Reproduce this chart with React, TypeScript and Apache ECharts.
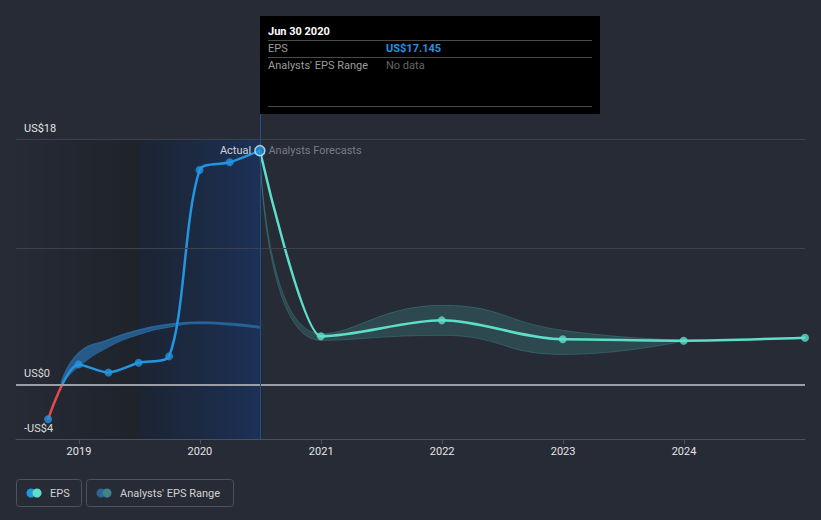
import React, { useEffect, useRef, useState } from 'react';
import * as echarts from 'echarts';

// ---- data ----
const actualDates = ['2018-09-30', '2018-12-31', '2019-03-31', '2019-06-30', '2019-09-30', '2019-12-31', '2020-03-31', '2020-06-30'];
const actualEps = [-2.55, 1.47, 0.88, 1.59, 2.06, 15.72, 16.29, 17.145];

const forecastDates = ['2020-06-30', '2020-12-31', '2021-12-31', '2022-12-31', '2023-12-31', '2024-12-31'];
const forecastEps = [17.145, 3.53, 4.7, 3.31, 3.21, 3.43];

const pastRangeDates = ['2018-11-08', '2018-12-31', '2019-03-31', '2019-06-30', '2019-09-30', '2019-12-31', '2020-03-31', '2020-06-30'];
const pastRangeLow = [0.0, 1.3, 2.74, 3.65, 4.2, 4.45, 4.35, 4.12];
const pastRangeHigh = [0.1, 2.3, 3.28, 4.0, 4.42, 4.58, 4.48, 4.24];

const forecastRangeDates = ['2020-06-30', '2020-12-31', '2021-12-31', '2022-12-31', '2023-12-31'];
const forecastRangeLow = [17.145, 3.23, 3.6, 2.2, 3.18];
const forecastRangeHigh = [17.145, 3.72, 5.8, 3.97, 3.26];

const yLabelValues = [-4, 0, 18];
const gridValues = [18, 10];
const zeroValue = 0;

const xMin = '2018-06-25';
const xMax = '2024-12-31';
const yMin = -4;
const yMax = 19.833;
const yInterval = 2;

const pastShadeMid = '2019-06-30';

// ---- colours ----
const BG = '#262b36';
const BLUE = '#2394e0';
const TEAL = '#5edec8';
const RED = '#e5484d';
const PAST_BAND = 'rgba(43,108,165,0.75)';
const FC_BAND = 'rgba(70,160,160,0.25)';
const FONT = 'Roboto, "Noto Sans", sans-serif';

const YEAR_MS = 365 * 24 * 3600 * 1000;

const lastActualDate = actualDates[actualDates.length - 1];
const lastActualValue = actualEps[actualEps.length - 1];

function fmtMoney(v: number) {
  return v < 0 ? `-US$${Math.abs(v)}` : `US$${v}`;
}

function pairs(dates: string[], vals: number[]) {
  return dates.map((d, i) => [d, vals[i]]);
}

function buildOption(): any {
  const pastDiff = pastRangeHigh.map((h, i) => h - pastRangeLow[i]);
  const fcDiff = forecastRangeHigh.map((h, i) => h - forecastRangeLow[i]);

  // gradient on actual line: red below zero, blue above (relative to line's bounding box)
  const aMax = Math.max(...actualEps);
  const aMin = Math.min(...actualEps);
  const zeroOff = (aMax - zeroValue) / (aMax - aMin);

  const actualScatter = actualDates.map((d, i) => {
    const item: any = { value: [d, actualEps[i]] };
    if (i === actualDates.length - 1) {
      item.symbolSize = 10;
      item.itemStyle = { color: BLUE, borderColor: '#cfe6fb', borderWidth: 1.5 };
      item.label = {
        show: true,
        position: 'left',
        distance: 3,
        formatter: 'Actual',
        color: '#ffffff',
        fontSize: 11,
        fontFamily: FONT,
      };
    }
    return item;
  });

  const forecastScatter = forecastDates.map((d, i) => {
    const item: any = { value: [d, forecastEps[i]] };
    if (i === 0) {
      item.symbolSize = 1;
      item.itemStyle = { color: 'rgba(0,0,0,0)' };
      item.label = {
        show: true,
        position: 'right',
        distance: 8,
        formatter: 'Analysts Forecasts',
        color: '#8f949c',
        fontSize: 11,
        fontFamily: FONT,
      };
    }
    return item;
  });

  const tipX = 260;
  const tipY = 16;
  const tipW = 340;
  const tipH = 98;

  return {
    animation: false,
    backgroundColor: BG,
    textStyle: { fontFamily: FONT },
    grid: { left: 16, right: 16, top: 114, bottom: 81, containLabel: false },
    xAxis: {
      type: 'time',
      min: xMin,
      max: xMax,
      minInterval: YEAR_MS,
      maxInterval: YEAR_MS * 1.01,
      axisLine: { show: true, onZero: false, lineStyle: { color: '#4b515c', width: 1 } },
      axisTick: { show: true, length: 5, lineStyle: { color: '#4b515c' } },
      axisLabel: {
        color: '#e4e4e4',
        fontSize: 11,
        margin: 7,
        fontFamily: FONT,
        showMinLabel: false,
        showMaxLabel: false,
        formatter: (v: number) => String(new Date(v).getFullYear()),
      },
      splitLine: { show: false },
    },
    yAxis: {
      type: 'value',
      min: yMin,
      max: yMax,
      interval: yInterval,
      axisLine: { show: false },
      axisTick: { show: false },
      splitLine: { show: false },
      axisLabel: {
        inside: true,
        margin: 8,
        color: '#e4e4e4',
        fontSize: 11,
        fontFamily: FONT,
        verticalAlign: 'bottom',
        padding: [0, 0, 5, 0],
        formatter: (v: number) => (yLabelValues.some((t) => Math.abs(t - v) < 1e-6) ? fmtMoney(v) : ''),
      },
    },
    series: [
      {
        name: 'bg',
        type: 'line',
        data: pairs([lastActualDate], [lastActualValue]),
        symbol: 'none',
        silent: true,
        lineStyle: { opacity: 0 },
        z: 0,
        markArea: {
          silent: true,
          data: [
            [
              {
                xAxis: xMin,
                yAxis: gridValues[0],
                itemStyle: {
                  color: {
                    type: 'linear', x: 0, y: 0, x2: 1, y2: 0,
                    colorStops: [
                      { offset: 0, color: 'rgba(0,0,0,0.02)' },
                      { offset: 1, color: 'rgba(0,0,0,0.2)' },
                    ],
                  },
                },
              },
              { xAxis: pastShadeMid, yAxis: yMin },
            ],
            [
              {
                xAxis: pastShadeMid,
                yAxis: gridValues[0],
                itemStyle: {
                  color: {
                    type: 'linear', x: 0, y: 0, x2: 1, y2: 0,
                    colorStops: [
                      { offset: 0, color: 'rgba(5,20,45,0.3)' },
                      { offset: 1, color: 'rgba(10,60,140,0.38)' },
                    ],
                  },
                },
              },
              { xAxis: lastActualDate, yAxis: yMin },
            ],
          ],
        },
        markLine: {
          silent: true,
          symbol: ['none', 'none'],
          label: { show: false },
          data: [
            ...gridValues.map((v) => ({ yAxis: v, lineStyle: { color: '#3d434e', width: 1, type: 'solid' } })),
            { yAxis: zeroValue, lineStyle: { color: '#9b9ea4', width: 2, type: 'solid' } },
            { xAxis: lastActualDate, lineStyle: { color: '#1f4f8f', width: 1, type: 'solid' } },
          ],
        },
      },
      {
        name: 'pastLow',
        type: 'line',
        stack: 'past',
        smooth: 0.5,
        symbol: 'none',
        z: 2,
        lineStyle: { color: PAST_BAND, width: 1 },
        data: pairs(pastRangeDates, pastRangeLow),
      },
      {
        name: "Analysts' EPS Range",
        type: 'line',
        stack: 'past',
        smooth: 0.5,
        symbol: 'none',
        z: 2,
        lineStyle: { color: PAST_BAND, width: 1.5 },
        areaStyle: { color: PAST_BAND, opacity: 1 },
        data: pairs(pastRangeDates, pastDiff),
      },
      {
        name: 'fcLow',
        type: 'line',
        stack: 'fc',
        smooth: 0.5,
        symbol: 'none',
        z: 2,
        lineStyle: { color: 'rgba(70,160,160,0.35)', width: 1 },
        data: pairs(forecastRangeDates, forecastRangeLow),
      },
      {
        name: 'fcRange',
        type: 'line',
        stack: 'fc',
        smooth: 0.5,
        symbol: 'none',
        z: 2,
        lineStyle: { color: 'rgba(70,160,160,0.35)', width: 1 },
        areaStyle: { color: FC_BAND, opacity: 1 },
        data: pairs(forecastRangeDates, fcDiff),
      },
      {
        name: 'EPS',
        type: 'line',
        smooth: 0.3,
        symbol: 'none',
        z: 3,
        lineStyle: {
          width: 2.5,
          color: {
            type: 'linear', x: 0, y: 0, x2: 0, y2: 1,
            colorStops: [
              { offset: 0, color: BLUE },
              { offset: zeroOff, color: BLUE },
              { offset: zeroOff, color: RED },
              { offset: 1, color: RED },
            ],
          },
        },
        data: pairs(actualDates, actualEps),
      },
      {
        name: 'EPS forecast',
        type: 'line',
        smooth: 0.3,
        smoothMonotone: 'x',
        symbol: 'none',
        z: 3,
        lineStyle: { color: TEAL, width: 2.5 },
        data: pairs(forecastDates, forecastEps),
      },
      {
        name: 'EPS forecast points',
        type: 'scatter',
        symbol: 'circle',
        symbolSize: 8,
        z: 4,
        itemStyle: { color: TEAL },
        data: forecastScatter,
      },
      {
        name: 'EPS points',
        type: 'scatter',
        symbol: 'circle',
        symbolSize: 8,
        z: 5,
        itemStyle: { color: BLUE },
        data: actualScatter,
      },
    ],
    graphic: [
      // tooltip box
      { type: 'rect', shape: { x: tipX, y: tipY, width: tipW, height: tipH }, style: { fill: '#000000' }, z: 10 },
      {
        type: 'text', x: tipX + 8, y: tipY + 15, z: 11,
        style: { text: 'Jun 30 2020', fill: '#ffffff', font: `bold 11px ${FONT}`, verticalAlign: 'middle' },
      },
      { type: 'line', shape: { x1: tipX + 8, y1: tipY + 24.5, x2: tipX + tipW - 8, y2: tipY + 24.5 }, style: { stroke: '#4a4a4a', lineWidth: 1 }, z: 11 },
      {
        type: 'text', x: tipX + 8, y: tipY + 32, z: 11,
        style: { text: 'EPS', fill: '#9c9c9c', font: `11px ${FONT}`, verticalAlign: 'middle' },
      },
      {
        type: 'text', x: tipX + 126, y: tipY + 32, z: 11,
        style: { text: `US$${lastActualValue}`, fill: BLUE, font: `bold 11px ${FONT}`, verticalAlign: 'middle' },
      },
      { type: 'line', shape: { x1: tipX + 8, y1: tipY + 41.5, x2: tipX + tipW - 8, y2: tipY + 41.5 }, style: { stroke: '#4a4a4a', lineWidth: 1 }, z: 11 },
      {
        type: 'text', x: tipX + 8, y: tipY + 49, z: 11,
        style: { text: "Analysts' EPS Range", fill: '#9c9c9c', font: `11px ${FONT}`, verticalAlign: 'middle' },
      },
      {
        type: 'text', x: tipX + 126, y: tipY + 49, z: 11,
        style: { text: 'No data', fill: '#666666', font: `11px ${FONT}`, verticalAlign: 'middle' },
      },
      { type: 'line', shape: { x1: tipX + 8, y1: tipY + 90.5, x2: tipX + tipW - 8, y2: tipY + 90.5 }, style: { stroke: '#4a4a4a', lineWidth: 1 }, z: 11 },

      // legend
      { type: 'rect', shape: { x: 16.5, y: 479.5, width: 65, height: 27, r: 3 }, style: { fill: 'none', stroke: '#4d535e', lineWidth: 1 } },
      { type: 'circle', shape: { cx: 31, cy: 493, r: 4.5 }, style: { fill: BLUE } },
      { type: 'circle', shape: { cx: 37, cy: 493, r: 4.5 }, style: { fill: TEAL } },
      { type: 'text', x: 50, y: 493, style: { text: 'EPS', fill: '#d2d2d2', font: `11px ${FONT}`, verticalAlign: 'middle' } },
      { type: 'rect', shape: { x: 86.5, y: 479.5, width: 147, height: 27, r: 3 }, style: { fill: 'none', stroke: '#4d535e', lineWidth: 1 } },
      { type: 'circle', shape: { cx: 101, cy: 493, r: 4.5 }, style: { fill: '#2c6698' } },
      { type: 'circle', shape: { cx: 107, cy: 493, r: 4.5 }, style: { fill: '#3f8384' } },
      { type: 'text', x: 120, y: 493, style: { text: "Analysts' EPS Range", fill: '#d2d2d2', font: `11px ${FONT}`, verticalAlign: 'middle' } },
    ],
  };
}

export default function App() {
  const ref = useRef<HTMLDivElement>(null);
  const [err, setErr] = useState('');
  useEffect(() => {
    document.body.style.margin = '0';
    if (!ref.current) return;
    const chart = echarts.init(ref.current, null, { renderer: 'svg' });
    try {
      chart.setOption(buildOption());
    } catch (e: any) {
      setErr(String(e && e.stack ? e.stack : e).slice(0, 900));
    }
    return () => chart.dispose();
  }, []);
  return (
    <div style={{ position: 'relative', width: 821, height: 520 }}>
      <div ref={ref} style={{ width: 821, height: 520, background: BG }} />
      {err ? (
        <pre style={{ position: 'absolute', left: 0, top: 0, color: '#ff0', fontSize: 10, whiteSpace: 'pre-wrap', width: 800 }}>{err}</pre>
      ) : null}
    </div>
  );
}
